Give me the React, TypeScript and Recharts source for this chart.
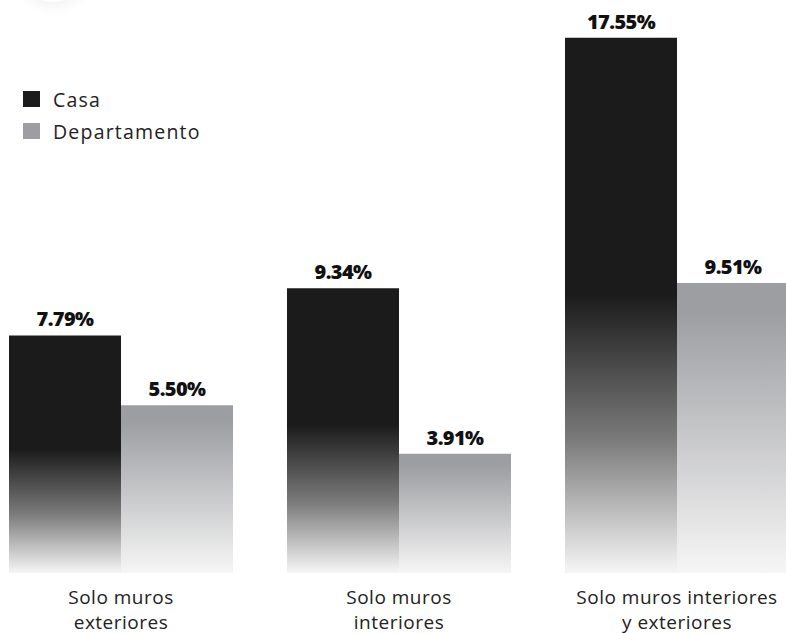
import { BarChart, Bar, XAxis, YAxis, LabelList } from 'recharts'

const categories = [
  ['Solo muros', 'exteriores'],
  ['Solo muros', 'interiores'],
  ['Solo muros interiores', 'y exteriores'],
]
const casa = [7.79, 9.34, 17.55]
const departamento = [5.5, 3.91, 9.51]
const seriesNames = ['Casa', 'Departamento']

const data = categories.map((lines, i) => ({
  name: lines.join(' '),
  casa: casa[i],
  departamento: departamento[i],
}))

const FONT = '"Open Sans", "Noto Sans", sans-serif'
const DARK = '#1b1b1b'
const GREY = '#9d9ea2'

function CategoryTick(props: any) {
  const { x, y, index } = props
  const lines = categories[index] || []
  return (
    <text x={x} y={y} textAnchor="middle" fontFamily={FONT} fontSize={19} fill="#222" letterSpacing={0.5}>
      {lines.map((l, i) => (
        <tspan key={i} x={x} dy={i === 0 ? 23 : 24.5}>
          {l}
        </tspan>
      ))}
    </text>
  )
}

function LegendBox() {
  const colors = [DARK, GREY]
  return (
    <div style={{ position: 'absolute', left: 23, top: 83, fontFamily: FONT, fontSize: 19.5, color: '#222', letterSpacing: 1.2 }}>
      {seriesNames.map((n, i) => (
        <div key={n} style={{ display: 'flex', alignItems: 'center', height: 32 }}>
          <span style={{ width: 17, height: 16, background: colors[i], marginRight: 13 }} />
          <span>{n}</span>
        </div>
      ))}
    </div>
  )
}

const fmt = (v: any) => `${Number(v).toFixed(2)}%`
const labelStyle = { fontFamily: FONT, fontSize: 20, fontWeight: 800, fill: '#111', letterSpacing: -0.6 }

export default function App() {
  return (
    <div style={{ position: 'absolute', left: 0, top: 0, width: 786, height: 633, overflow: 'hidden', background: '#fff' }}>
      <div
        style={{
          position: 'absolute',
          left: 18,
          top: -68,
          width: 70,
          height: 70,
          borderRadius: '50%',
          background: '#fff',
          boxShadow: '0 4px 14px rgba(0,0,0,0.06)',
        }}
      />
      <div style={{ position: 'absolute', left: -18, top: 0 }}>
        <BarChart
          width={834}
          height={633}
          data={data}
          margin={{ top: 24, right: 0, bottom: 0, left: 0 }}
          barCategoryGap={27}
          barGap={0}
        >
          <defs>
            <linearGradient id="gDark" x1="0" y1="0" x2="0" y2="1">
              <stop offset="0" stopColor={DARK} />
              <stop offset="0.48" stopColor={DARK} />
              <stop offset="0.75" stopColor="#7a7a7a" />
              <stop offset="1" stopColor="#f6f6f6" />
            </linearGradient>
            <linearGradient id="gGrey" x1="0" y1="0" x2="0" y2="1">
              <stop offset="0" stopColor={GREY} />
              <stop offset="0.1" stopColor={GREY} />
              <stop offset="1" stopColor="#f6f6f6" />
            </linearGradient>
          </defs>
          <XAxis dataKey="name" axisLine={false} tickLine={false} tick={<CategoryTick />} interval={0} height={60} />
          <YAxis hide domain={[0, 18]} />
          <Bar dataKey="casa" name="Casa" fill="url(#gDark)" isAnimationActive={false}>
            <LabelList dataKey="casa" position="top" offset={9} formatter={fmt} style={labelStyle} />
          </Bar>
          <Bar dataKey="departamento" name="Departamento" fill="url(#gGrey)" isAnimationActive={false}>
            <LabelList dataKey="departamento" position="top" offset={9} formatter={fmt} style={labelStyle} />
          </Bar>
        </BarChart>
      </div>
      <LegendBox />
    </div>
  )
}
